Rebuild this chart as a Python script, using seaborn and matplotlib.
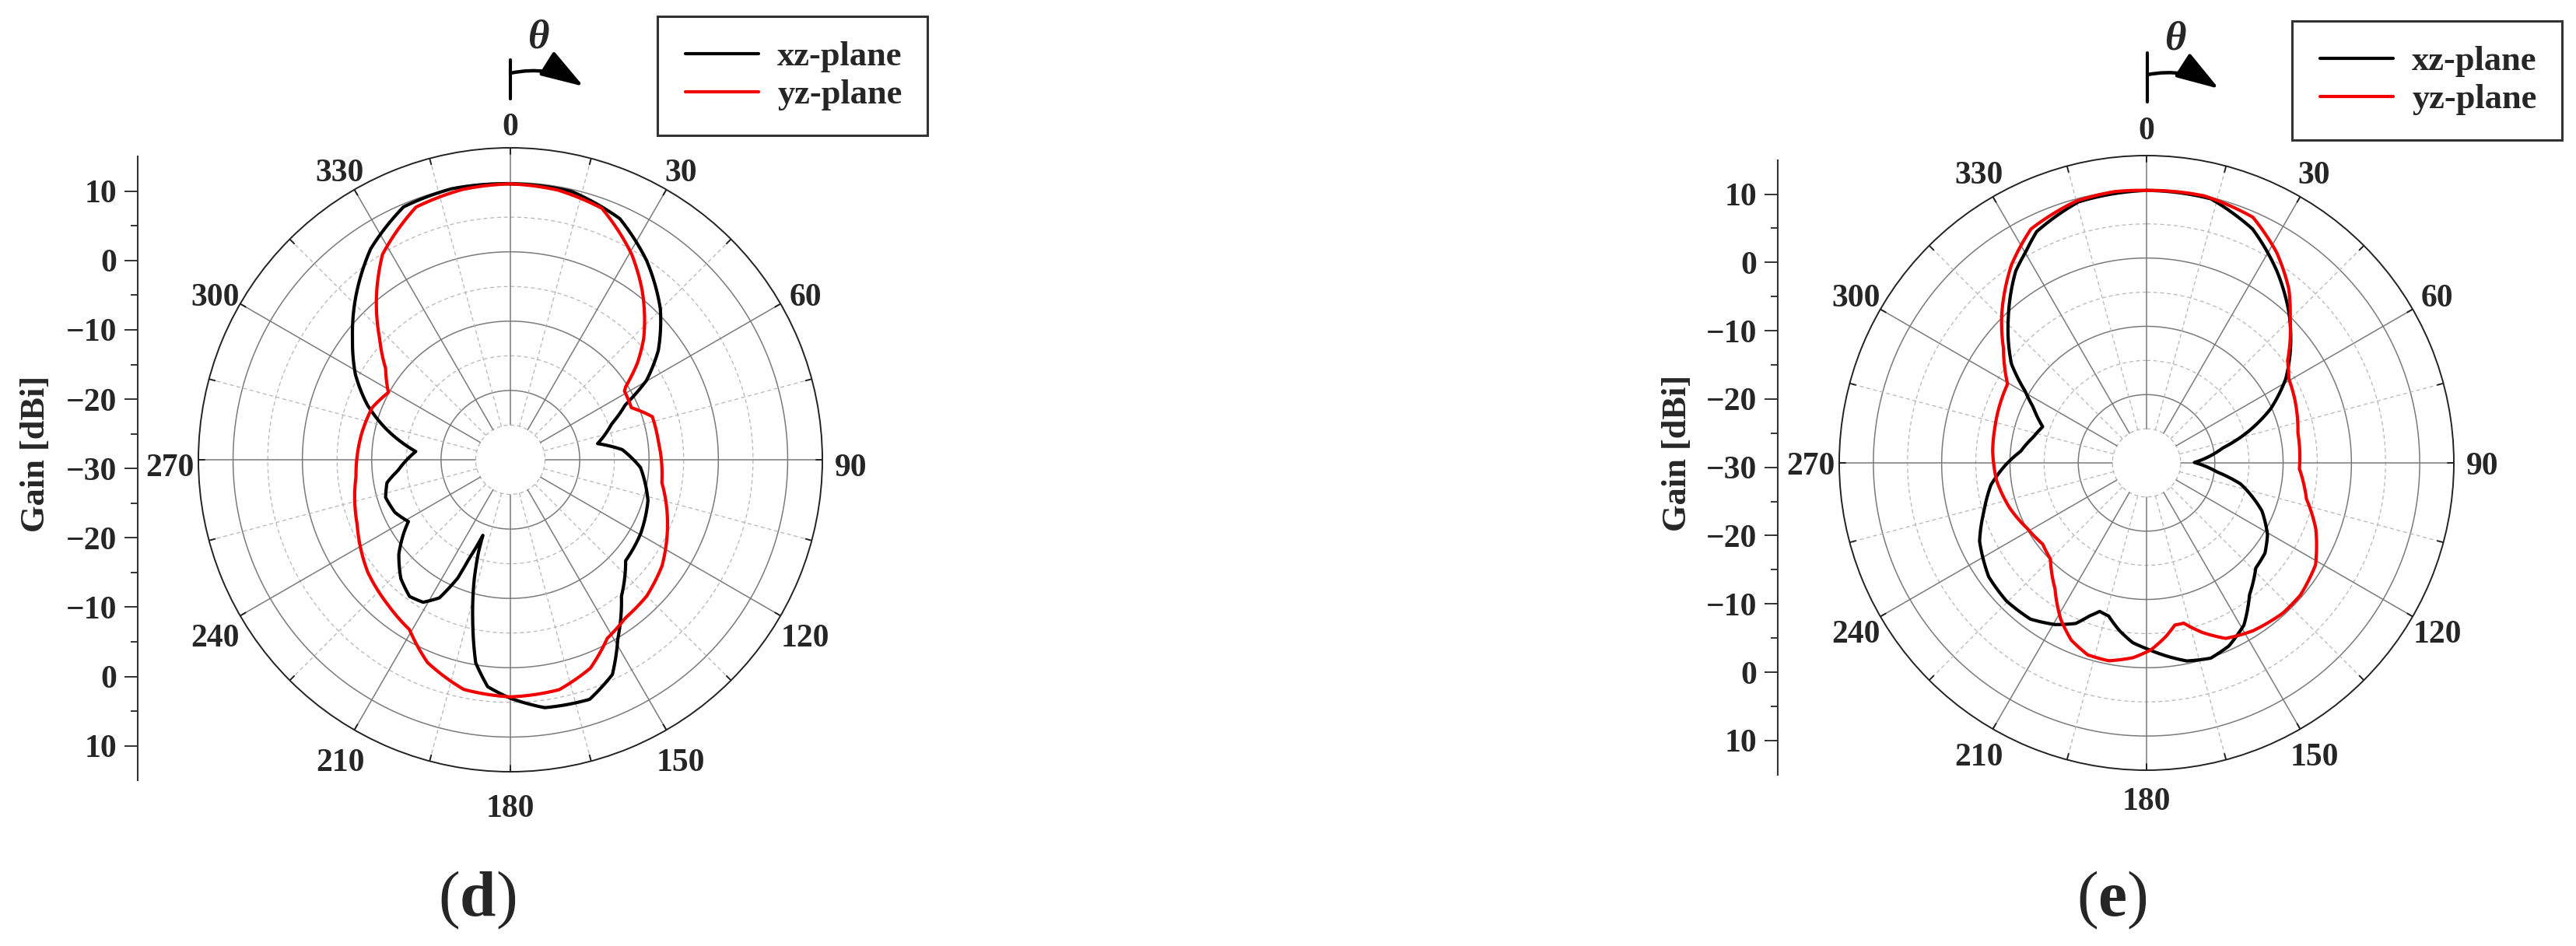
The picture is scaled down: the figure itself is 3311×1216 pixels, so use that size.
import numpy as np
import pandas as pd
import matplotlib
matplotlib.use("Agg")
import matplotlib.pyplot as plt
import matplotlib.transforms as mtransforms
from matplotlib.patches import FancyArrowPatch
from matplotlib.lines import Line2D
from matplotlib.legend_handler import HandlerLine2D
import seaborn as sns

# ---------------- data (angle in degrees, gain in dBi) ----------------
d_xz_theta = [0, 12.9, 24.4, 34.4, 44.8, 53.6, 59.8, 64.4, 70.5, 79.5, 84.8, 93.4,
              106.5, 119.5, 131.2, 140.9, 149, 154.6, 161.7, 172.1, 180, 185.7,
              189.7, 193.2, 196.9, 199.1, 200, 202.6, 204, 207.2, 211.5, 216.4,
              222.7, 229.7, 235.4, 238.8, 245.5, 253.2, 259.5, 264.5, 275, 278.6,
              284, 291, 298.8, 307.5, 316.5, 326.5, 337.1, 347.8, 360]
d_xz_gain = [9.8, 9.7, 8.2, 4.8, 0.7, -3.5, -7.3, -11.6, -14.5, -17.2, -13.8, -11.2,
             -9.3, -8.4, -7.9, -4.6, 0.1, 4.3, 6.4, 6.1, 4.4, 2.9,
             -0.3, -6.2, -12.1, -16.0, -18.4, -14.7, -11.3, -7.6, -5.9, -5.5,
             -6.7, -8.9, -11.3, -12.8, -11.7, -11.2, -11.9, -13.7, -16.3, -14.4,
             -11.5, -7.9, -4.5, -1.3, 2.4, 6.5, 9.6, 10.0, 9.8]

d_yz_theta = [0, 10, 20, 30.6, 38, 47.7, 52.6, 57.6, 59, 66.7, 73.1, 82.6, 98.6,
              114, 125, 135, 143.9, 151.5, 159, 168, 180, 191.5, 202.2, 210.7,
              220, 231.7, 247, 263.8, 279.6, 290.7, 298.9, 306.2, 312.8, 321.7,
              328.1, 339.5, 350, 360]
d_yz_gain = [9.8, 9.5, 8.6, 4.4, 0.9, -4.0, -6.9, -10.3, -10.8, -11.0, -8.6, -8.5, -7.9,
             -5.2, -3.3, -2.2, -1.8, -0.7, 2.2, 3.9, 4.2, 3.8, 1.6, -1.5,
             -2.6, -3.8, -6.0, -7.6, -8.2, -8.7, -9.9, -7.7, -4.3, 1.1,
             4.9, 8.9, 9.6, 9.8]

e_xz_theta = [0, 13.7, 24.4, 34.1, 43.5, 51.6, 58.9, 66.5, 73.3, 78.9, 89.5, 97.3,
              102.6, 112.6, 120.7, 127.3, 133.9, 142, 149, 155.8, 161.8, 168.5,
              175.2, 180, 184.4, 189.1, 193.9, 197.5, 200.4, 203.8, 209.5, 216.6,
              225.4, 234.2, 244.9, 253.6, 262, 269, 275.3, 282.9, 289.2, 296.2,
              300.5, 306.2, 316.5, 325.7, 330.2, 334.6, 345.4, 360]
e_xz_gain = [9.9, 9.8, 7.6, 4.0, 0.3, -3.1, -6.2, -10.2, -14.7, -18.6, -23.0, -19.6,
             -15.9, -11.7, -9.4, -8.2, -7.8, -5.5, -2.3, -0.6, 0.1, -0.4,
             -1.8, -2.8, -3.6, -5.1, -6.9, -7.2, -6.1, -4.3, -2.8, -1.5,
             -1.2, -1.5, -3.0, -5.2, -7.0, -9.3, -11.5, -13.0, -13.9, -11.5,
             -9.4, -5.5, -0.6, 4.0, 5.6, 7.5, 9.5, 9.9]

e_yz_theta = [0, 12.2, 23.4, 31.8, 39.3, 44.9, 54.1, 59.4, 67, 78.8, 92.2, 102.7,
              111.3, 121.1, 130.6, 137.8, 147.7, 155.7, 161.9, 166.9, 170.1, 173.7,
              178.7, 184, 190.8, 197, 203, 208.8, 216, 225, 232, 240.9, 251.8,
              263.2, 274.5, 283, 299.6, 308.6, 316, 325.7, 333.7, 345, 353.3, 360]
e_yz_gain = [9.9, 10.0, 9.2, 6.2, 2.9, -0.2, -4.5, -5.8, -6.4, -7.4, -7.6, -6.0,
             -3.4, -1.1, -0.3, -0.3, -0.9, -1.8, -3.9, -5.9, -5.9, -4.4,
             -2.6, -1.4, -0.5, -0.6, -1.8, -3.9, -7.2, -10.1, -10.7, -10.1, -8.9,
             -7.9, -7.4, -7.2, -6.6, -3.2, 0.5, 5.1, 8.2, 9.7, 10.0, 9.9]

angle_labels = [str(a) for a in range(0, 360, 30)]
gain_tick_labels = ["10", "0", "\u221210", "\u221220", "\u221230", "\u221220", "\u221210", "0", "10"]
series_names = ["xz-plane", "yz-plane"]
panel_names = ["d", "e"]

# ---------------- style ----------------
sns.set_theme(style="white")
plt.rcParams["font.family"] = ["Liberation Serif", "DejaVu Serif"]
plt.rcParams["mathtext.fontset"] = "custom"
plt.rcParams["mathtext.rm"] = "Liberation Serif"
plt.rcParams["mathtext.bf"] = "Liberation Serif:bold"
plt.rcParams["mathtext.it"] = "Liberation Serif:italic"

W, H = 3312, 1216
fig = plt.figure(figsize=(W / 100, H / 100), dpi=100)
fig.patch.set_facecolor("white")


def fx(x):
    return x / W


def fy(y):
    return 1 - y / H


RMIN, RMAX = -30, 15
COLORS = ["#000000", "#f20000"]
LEG_FS = 32


def draw_panel(cx, cy, R, yax_x, yax_center, ylab_x, ylab_y, leg_box, theta_cfg,
               lab_xy, lab_shift, name, curves):
    ax = fig.add_axes([fx(cx - R), fy(cy + R), 2 * R / W, 2 * R / H], projection="polar")
    ax.set_theta_zero_location("N")
    ax.set_theta_direction(-1)
    ax.set_facecolor("none")
    ax.grid(False)
    full = np.linspace(0, 2 * np.pi, 721)
    for r in [-20, -10, 0, 10]:
        ax.plot(full, np.full_like(full, r), color="#7a7a7a", lw=1.1, zorder=1)
    for r in [-25, -15, -5, 5]:
        ax.plot(full, np.full_like(full, r), color="#b5b5b5", lw=0.9,
                ls=(0, (4, 3)), zorder=1)
    for a in range(0, 360, 15):
        t = np.deg2rad(a)
        if a % 30 == 0:
            ax.plot([t, t], [-25, RMAX], color="#7a7a7a", lw=1.1, zorder=1)
        else:
            ax.plot([t, t], [-25, RMAX], color="#b5b5b5", lw=0.9,
                    ls=(0, (4, 3)), zorder=1)
        ax.plot([t, t], [RMAX - 0.9, RMAX], color="#222222", lw=1.4, zorder=2)

    n_before = len(ax.lines)
    for (th, g), col in zip(curves, COLORS):
        df = pd.DataFrame({"theta": np.deg2rad(th), "gain": g})
        sns.lineplot(data=df, x="theta", y="gain", ax=ax, sort=False, estimator=None,
                     color=col, linewidth=3.0, zorder=5, legend=False)
    # draw each segment along the polar grid (arc-wise) rather than as a chord
    for ln in ax.lines[n_before:]:
        ln.set_solid_joinstyle("round")
        ln.set_solid_capstyle("round")
        ln._path._interpolation_steps = 40
        ln.recache_always()
    ax.set_xlabel("")
    ax.set_ylabel("")
    ax.set_ylim(RMIN, RMAX)
    ax.set_xticks([])
    ax.set_yticks([])
    ax.spines["polar"].set_color("#222222")
    ax.spines["polar"].set_linewidth(1.4)

    off = mtransforms.ScaledTranslation(0, -lab_shift / 100, fig.dpi_scale_trans)
    r_lab = RMIN + (RMAX - RMIN) * 1.092
    for a, txt in zip(range(0, 360, 30), angle_labels):
        ax.text(np.deg2rad(a), r_lab, txt, ha="center", va="center", fontsize=30,
                fontweight="bold", transform=ax.transData + off, clip_on=False)

    # linear gain axis on the left
    axy = fig.add_axes([fx(yax_x), fy(yax_center + R), 0.0002, 2 * R / H])
    axy.set_facecolor("none")
    for s in ["top", "right", "bottom"]:
        axy.spines[s].set_visible(False)
    axy.spines["left"].set_color("#333333")
    axy.spines["left"].set_linewidth(1.5)
    axy.set_ylim(-45, 45)
    axy.set_xticks([])
    axy.set_yticks(range(-40, 41, 10))
    axy.set_yticklabels(gain_tick_labels[::-1], fontsize=30, fontweight="bold")
    axy.set_yticks(range(-35, 40, 10), minor=True)
    axy.tick_params(axis="y", which="major", direction="out", length=12, width=1.4,
                    color="#333333", pad=7, left=True)
    axy.tick_params(axis="y", which="minor", direction="out", length=6.5, width=1.4,
                    color="#333333", left=True)
    fig.text(fx(ylab_x), fy(ylab_y), "Gain [dBi]", rotation=90, ha="center",
             va="center", fontsize=32, fontweight="bold")

    # legend
    handles = [Line2D([], [], color=c, lw=3.0, solid_capstyle="round") for c in COLORS]
    hmap = {h: HandlerLine2D(xpad=0.1) for h in handles}
    leg = fig.legend(handles, series_names, loc="upper left", handler_map=hmap,
                     bbox_to_anchor=(fx(leg_box[0]), fy(leg_box[1])),
                     bbox_transform=fig.transFigure, borderaxespad=0,
                     prop={"family": "Liberation Serif", "weight": "bold", "size": LEG_FS},
                     frameon=True, fancybox=False, edgecolor="black",
                     handlelength=2.2, handletextpad=0.55, borderpad=0.72,
                     labelspacing=0.2)
    leg.get_frame().set_linewidth(2.2)

    # theta indicator
    bx, by0, by1, ay, tipx, tipy, thx, thy = theta_cfg
    fig.add_artist(Line2D([fx(bx), fx(bx)], [fy(by0), fy(by1)], color="black", lw=3.0,
                          transform=fig.transFigure, solid_capstyle="round"))
    arr = FancyArrowPatch((fx(bx), fy(ay)), (fx(tipx), fy(tipy)),
                          transform=fig.transFigure, connectionstyle="arc3,rad=-0.2",
                          arrowstyle="-|>,head_length=3.4,head_width=1.1",
                          mutation_scale=10, lw=3.2, color="black", shrinkA=0, shrinkB=0)
    fig.add_artist(arr)
    fig.text(fx(thx), fy(thy), "\u03b8", fontsize=38, fontstyle="italic",
             fontweight="bold", ha="center", va="center")

    fig.text(fx(lab_xy[0]), fy(lab_xy[1]), r"($\mathbf{%s}$)" % name, fontsize=60,
             ha="center", va="center")


draw_panel(656, 591, 401, 176.7, 602.2, 45.7, 583.5, (845, 21),
           (656, 77, 127, 94, 750, 111, 692, 48), (613, 1157), 11, panel_names[0],
           [(d_xz_theta, d_xz_gain), (d_yz_theta, d_yz_gain)])
draw_panel(2759, 595, 395, 2285, 600.7, 2156, 582.5, (2946, 27),
           (2760, 68, 131, 96, 2852, 114, 2796, 50), (2714, 1157), 5, panel_names[1],
           [(e_xz_theta, e_xz_gain), (e_yz_theta, e_yz_gain)])

fig.savefig("out.png", dpi=100, facecolor="white")
